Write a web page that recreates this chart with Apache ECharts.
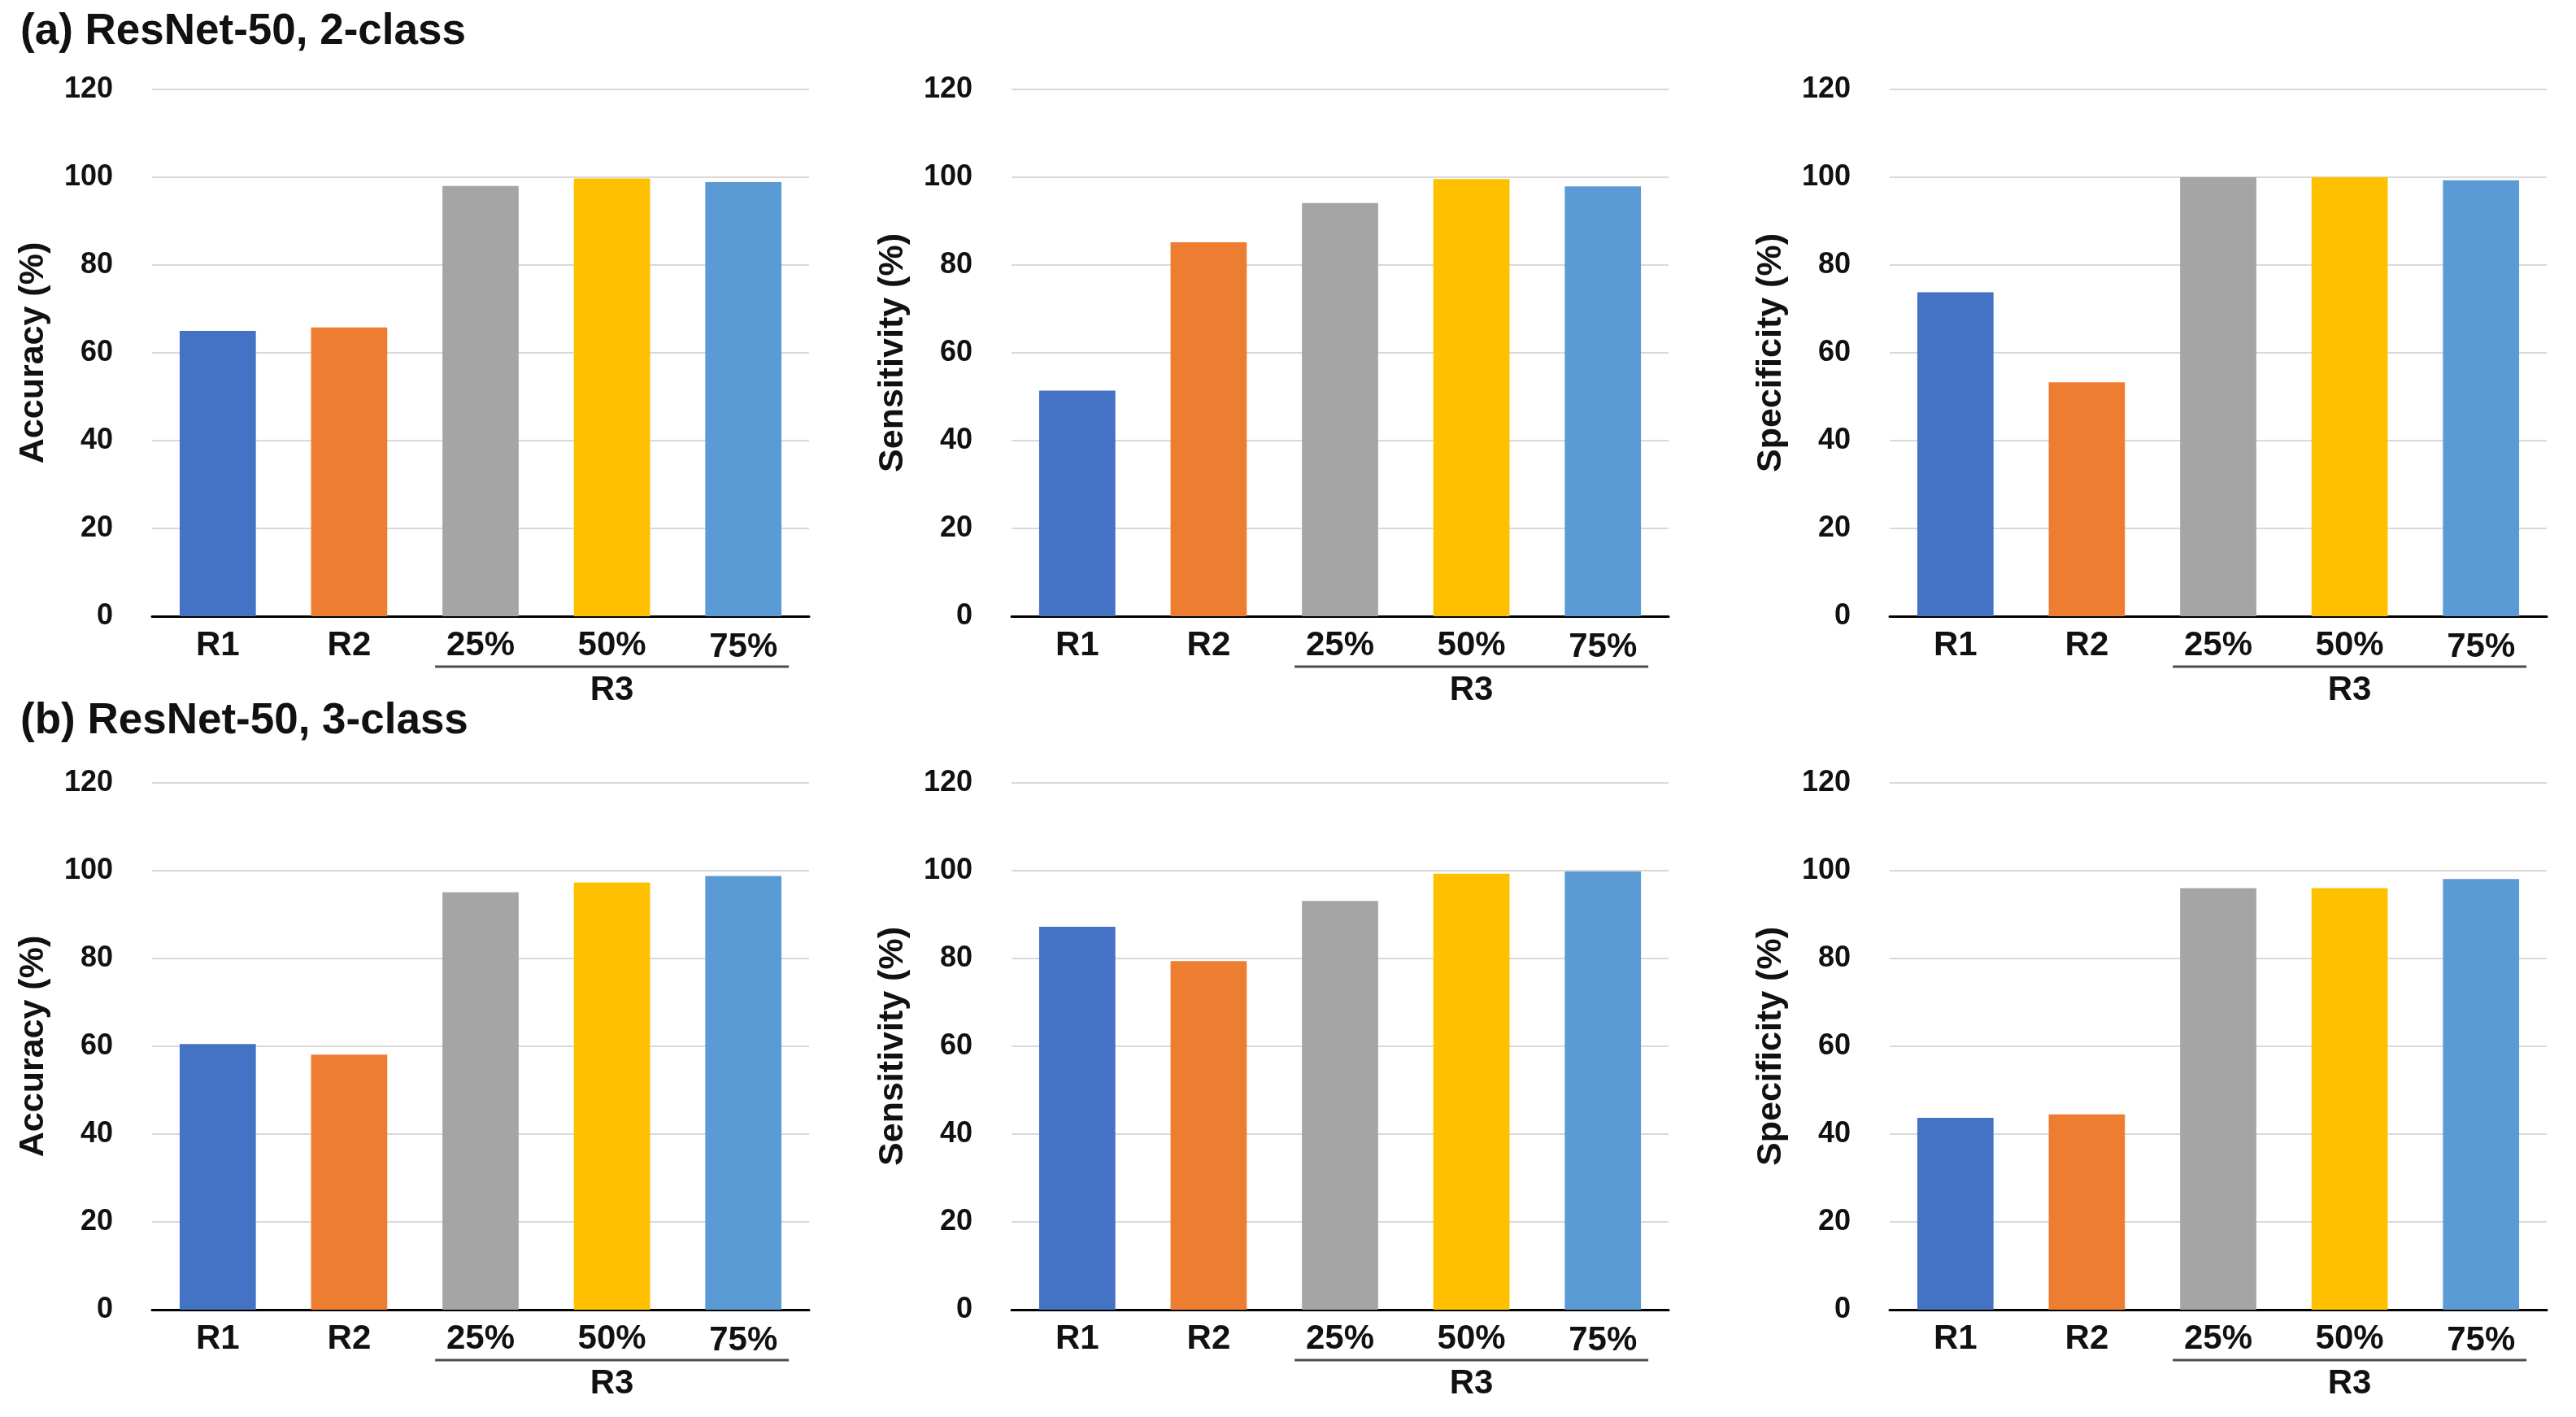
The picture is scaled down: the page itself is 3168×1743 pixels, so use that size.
<!DOCTYPE html>
<html>
<head>
<meta charset="utf-8">
<script src="https://cdn.jsdelivr.net/npm/echarts@6/dist/echarts.min.js"></script>
<style>
  html, body { margin: 0; padding: 0; background: #ffffff; }
  #chart { width: 3168px; height: 1743px; }
</style>
</head>
<body>
<div id="chart"></div>
<script>
// ---- data ----
const categories = ['R1', 'R2', '25%', '50%', '75%'];
const groupLabel = 'R3';
const accuracy2 = [65.0, 65.8, 98.0, 99.7, 98.9];
const sensitivity2 = [51.4, 85.2, 94.1, 99.6, 97.9];
const specificity2 = [73.8, 53.3, 100.0, 100.0, 99.3];
const accuracy3 = [60.5, 58.1, 95.1, 97.3, 98.8];
const sensitivity3 = [87.2, 79.4, 93.1, 99.3, 99.8];
const specificity3 = [43.7, 44.5, 96.0, 96.0, 98.1];
const yMin = 0, yMax = 120, yStep = 20;
const panelTitles = ['(a) ResNet-50, 2-class', '(b) ResNet-50, 3-class'];
const metricNames = ['Accuracy (%)', 'Sensitivity (%)', 'Specificity (%)'];
const rows = [[accuracy2, sensitivity2, specificity2], [accuracy3, sensitivity3, specificity3]];

// ---- styles ----
const barColors = ['#4472C4', '#ED7D31', '#A5A5A5', '#FFC000', '#5B9BD5'];
const FONT = '"Liberation Sans", Arial, sans-serif';
const TEXT = '#111111';
const gridTops = [110, 963];
const gridHeight = 648;
const gridLefts = [187, 1244, 2324];
const gridWidth = 808;

const chart = echarts.init(document.getElementById('chart'), null, { renderer: 'canvas' });

const grids = [], xAxes = [], yAxes = [], series = [];
let k = 0;
rows.forEach((row, r) => {
  row.forEach((vals, c) => {
    grids.push({ left: gridLefts[c], top: gridTops[r], width: gridWidth, height: gridHeight, containLabel: false });
    xAxes.push({
      type: 'category', gridIndex: k, data: categories,
      axisLine: { show: true, lineStyle: { color: '#000', width: 3 } },
      axisTick: { show: false },
      axisLabel: {
        interval: 0, margin: 15, color: TEXT, fontFamily: FONT, fontWeight: 'bold', fontSize: 42,
        formatter: function (v, i) {
          if (i === 3) return '{v|' + v + '}\n{u|}\n{g|' + groupLabel + '}';
          if (i === 4) return '{w|' + v + '}';
          return '{v|' + v + '}';
        },
        rich: {
          v: { fontSize: 42, lineHeight: 42, fontWeight: 'bold', fontFamily: FONT, color: TEXT },
          w: { fontSize: 42, lineHeight: 42, fontWeight: 'bold', fontFamily: FONT, color: TEXT, padding: [5, 0, 0, 0] },
          u: { width: 435, height: 3, lineHeight: 10, backgroundColor: '#4d4d4d' },
          g: { fontSize: 42, lineHeight: 48, fontWeight: 'bold', fontFamily: FONT, color: TEXT }
        }
      },
      splitLine: { show: false }
    });
    yAxes.push({
      type: 'value', gridIndex: k, min: yMin, max: yMax, interval: yStep,
      name: metricNames[c], nameLocation: 'middle', nameGap: 124, nameRotate: 90,
      nameTextStyle: { fontFamily: FONT, fontWeight: 'bold', fontSize: 43, color: TEXT },
      axisLine: { show: false }, axisTick: { show: false },
      axisLabel: { margin: 48, color: TEXT, fontFamily: FONT, fontWeight: 'bold', fontSize: 36 },
      splitLine: { show: true, lineStyle: { color: '#d9d9d9', width: 2 } }
    });
    series.push({
      type: 'bar', xAxisIndex: k, yAxisIndex: k, data: vals, barWidth: '58%',
      itemStyle: { color: function (p) { return barColors[p.dataIndex]; } },
      silent: true
    });
    k++;
  });
});

chart.setOption({
  backgroundColor: '#ffffff',
  animation: false,
  title: [
    { text: panelTitles[0], left: 20, top: 8, textStyle: { fontFamily: FONT, fontWeight: 'bold', fontSize: 53, color: TEXT } },
    { text: panelTitles[1], left: 20, top: 856, textStyle: { fontFamily: FONT, fontWeight: 'bold', fontSize: 53, color: TEXT } }
  ],
  grid: grids, xAxis: xAxes, yAxis: yAxes, series: series
});
</script>
</body>
</html>
